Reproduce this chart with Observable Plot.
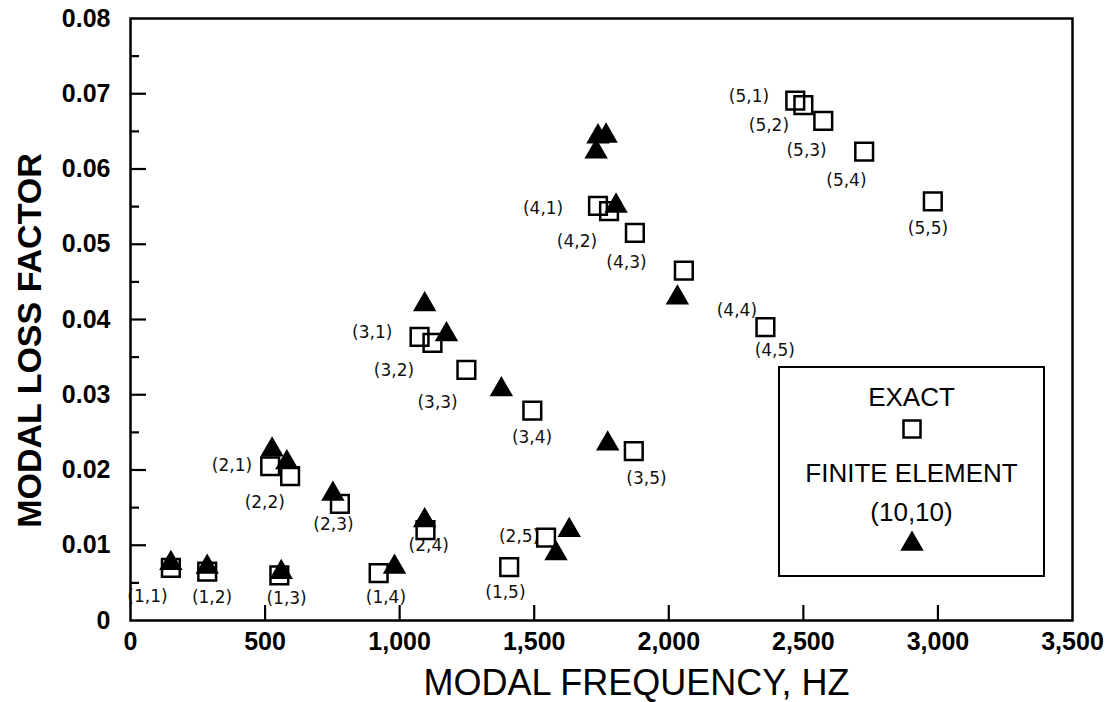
<!DOCTYPE html>
<html>
<head>
<meta charset="utf-8">
<script src="https://cdn.jsdelivr.net/npm/d3@7"></script>
<script src="https://cdn.jsdelivr.net/npm/@observablehq/plot@0.6"></script>
<style>
  html, body { margin: 0; padding: 0; background: #fff; }
  #wrap { position: relative; width: 1114px; height: 702px; font-family: "Liberation Sans", Arial, sans-serif; }
  #legend { position: absolute; left: 778px; top: 366px; width: 263px; height: 207px; border: 2.5px solid #000; background: #fff; }
  #legend .t { position: absolute; left: 0; width: 100%; text-align: center; font-size: 26px; line-height: 26px; color: #000; }
  #legend svg { position: absolute; left: 50%; transform: translateX(-50%); overflow: visible; }
</style>
</head>
<body>
<div id="wrap">
  <div id="chart"></div>
  <div id="legend">
    <div class="t" style="top:16px">EXACT</div>
    <svg id="lgSq" width="20" height="20" style="top:51px"></svg>
    <div class="t" style="top:92px">FINITE ELEMENT</div>
    <div class="t" style="top:131px">(10,10)</div>
    <svg id="lgTri" width="24" height="22" style="top:163px"></svg>
  </div>
</div>
<script>
// ---- data ----
const modes = ["(1,1)","(1,2)","(1,3)","(1,4)","(1,5)","(2,1)","(2,2)","(2,3)","(2,4)","(2,5)",
               "(3,1)","(3,2)","(3,3)","(3,4)","(3,5)","(4,1)","(4,2)","(4,3)","(4,4)","(4,5)",
               "(5,1)","(5,2)","(5,3)","(5,4)","(5,5)"];
// EXACT (squares)
const exactFreq = [150, 285, 553, 922, 1407, 519, 593, 778, 1096, 1544,
                   1074, 1122, 1248, 1493, 1870, 1737, 1778, 1874, 2056, 2359,
                   2470, 2500, 2574, 2726, 2981];
const exactLoss = [0.0070, 0.0065, 0.0060, 0.0063, 0.0071, 0.0205, 0.0192, 0.0155, 0.0120, 0.0110,
                   0.0377, 0.0369, 0.0333, 0.0279, 0.0225, 0.0551, 0.0544, 0.0515, 0.0465, 0.0390,
                   0.0691, 0.0685, 0.0664, 0.0623, 0.0557];
// FINITE ELEMENT (10,10) (triangles)
const feFreq = [150, 285, 560, 981, 526, 581, 752, 1093, 1581, 1630,
                1093, 1174, 1378, 1773, 1730, 1737, 1767, 1804, 2032];
const feLoss = [0.0076, 0.0071, 0.0064, 0.0071, 0.0227, 0.0210, 0.0168, 0.0133, 0.0089, 0.0120,
                0.0420, 0.0380, 0.0307, 0.0235, 0.0623, 0.0643, 0.0644, 0.0551, 0.0429];
// hand-written mode annotations
const noteText = ["(1,1)","(1,2)","(1,3)","(1,4)","(1,5)","(2,1)","(2,2)","(2,3)","(2,4)","(2,5)",
                  "(3,1)","(3,2)","(3,3)","(3,4)","(3,5)","(4,1)","(4,2)","(4,3)","(4,4)","(4,5)",
                  "(5,1)","(5,2)","(5,3)","(5,4)","(5,5)"];
const noteFreq = [63, 303, 580, 949, 1393, 377, 499, 754, 1108, 1444,
                  898, 979, 1141, 1492, 1917, 1533, 1659, 1843, 2253, 2394,
                  2298, 2372, 2512, 2660, 2963];
const noteLoss = [0.0032, 0.0031, 0.0029, 0.0031, 0.0037, 0.0206, 0.0157, 0.0128, 0.0100, 0.0112,
                  0.0382, 0.0332, 0.0290, 0.0243, 0.0189, 0.0548, 0.0504, 0.0476, 0.0412, 0.0359,
                  0.0696, 0.0658, 0.0625, 0.0585, 0.0521];
// axes
const xTickLabels = [0, 500, 1000, 1500, 2000, 2500, 3000, 3500];
const xInnerTicks = [500, 1000, 1500, 2000, 2500, 3000];
const yTickLabels = [0, 0.01, 0.02, 0.03, 0.04, 0.05, 0.06, 0.07, 0.08];
const yMajorTicks = [0.01, 0.02, 0.03, 0.04, 0.05, 0.06, 0.07];
const yMinorTicks = [0.005, 0.015, 0.025, 0.035, 0.045, 0.055, 0.065, 0.075];
const xTitle = "MODAL FREQUENCY, HZ";
const yTitle = "MODAL LOSS FACTOR";

const exact = exactFreq.map((f, i) => ({f, v: exactLoss[i], m: modes[i]}));
const fe = feFreq.map((f, i) => ({f, v: feLoss[i]}));
const notes = noteText.map((t, i) => ({t, f: noteFreq[i], v: noteLoss[i]}));

const W = 1114, H = 702, ML = 130, MR = 42, MT = 18, MB = 82;
const frameW = W - ML - MR, frameH = H - MT - MB;

const chart = Plot.plot({
  width: W,
  height: H,
  marginLeft: ML,
  marginRight: MR,
  marginTop: MT,
  marginBottom: MB,
  x: {domain: [0, 3500]},
  y: {domain: [0, 0.08]},
  style: {fontFamily: "'Liberation Sans', Arial, sans-serif", background: "#fff", color: "#000", overflow: "visible"},
  marks: [
    Plot.frame({fill: "none", stroke: "#000", strokeWidth: 2.5}),
    Plot.axisX(xTickLabels, {tickSize: 0, tickPadding: 12, fontSize: 25, fontWeight: "bold",
      tickFormat: d3.format(","), label: null}),
    Plot.axisY(yTickLabels, {tickSize: 0, tickPadding: 20, fontSize: 25, fontWeight: "bold",
      tickFormat: d => d === 0 ? "0" : d3.format(".2f")(d), label: null}),
    // inward tick marks (pixel lengths set with insets)
    Plot.ruleX(xInnerTicks, {x: d => d, insetTop: frameH - 15, stroke: "#000", strokeWidth: 2.2}),
    Plot.ruleY(yMajorTicks, {y: d => d, insetRight: frameW - 16, stroke: "#000", strokeWidth: 2.2}),
    Plot.ruleY(yMinorTicks, {y: d => d, insetRight: frameW - 9, stroke: "#000", strokeWidth: 2.2}),
    Plot.text([xTitle], {frameAnchor: "bottom", dx: 35, dy: 63, fontSize: 36, lineAnchor: "middle", text: d => d}),
    Plot.text([yTitle], {frameAnchor: "left", dx: -100, dy: 21, rotate: -90, textAnchor: "middle", fontSize: 34, fontWeight: "bold", lineAnchor: "middle", text: d => d}),
    Plot.text(notes, {x: "f", y: "v", text: "t", fontSize: 17, fontFamily: "'DejaVu Sans', sans-serif", fill: "#111"}),
    Plot.dot(exact, {x: "f", y: "v", symbol: "square", r: 10, fill: "none", stroke: "#000", strokeWidth: 2.5}),
    Plot.dot(fe, {x: "f", y: "v", symbol: "triangle", r: 8.7, fill: "#000", stroke: "none"})
  ]
});
document.getElementById("chart").appendChild(chart);

// legend symbols
const sq = d3.select("#lgSq");
sq.append("rect").attr("x", 1.5).attr("y", 1.5).attr("width", 17).attr("height", 17)
  .attr("fill", "none").attr("stroke", "#000").attr("stroke-width", 2.5);
const tri = d3.select("#lgTri");
tri.append("path").attr("d", d3.symbol(d3.symbolTriangle, Math.PI * 8.7 * 8.7)()).attr("transform", "translate(12,13)").attr("fill", "#000");
</script>
</body>
</html>
